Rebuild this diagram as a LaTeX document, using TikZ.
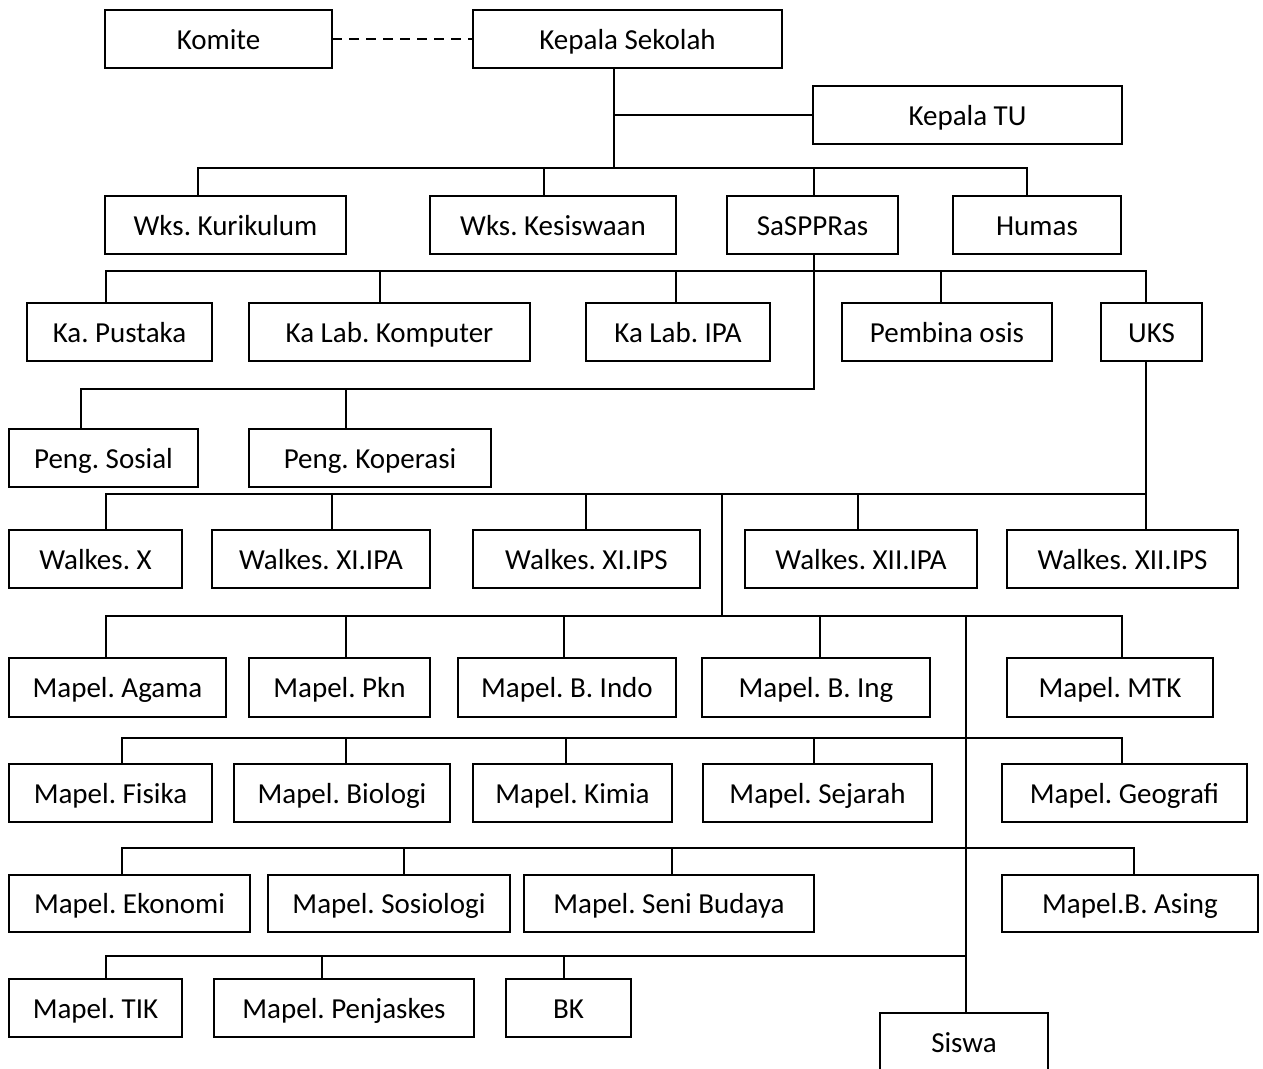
\documentclass[tikz,border=0pt]{standalone}
\usepackage{fontspec}
\setmainfont{Carlito}
\frenchspacing
\tikzset{
  box/.style={draw, line width=1.5pt, inner sep=0pt, outer sep=0pt,
    font=\fontsize{29}{34}\selectfont\frenchspacing, text height=27pt, text depth=6.4pt},
  conn/.style={line width=1.5pt, line cap=rect},
  dashconn/.style={line width=1.5pt, dash pattern=on 10pt off 7pt}
}
\newcommand{\mkbox}[6]{\node[box, minimum width={(#4)-(#2)}, minimum height={(#5)-(#3)}] (#1) at ({((#2)+(#4))/2},{((#3)+(#5))/2}) {#6};}
\newcommand{\dropto}[3]{\coordinate (#1) at (#2); \draw[conn] (#1) -- (#1 |- #3.north);}
\begin{document}
\begin{tikzpicture}[x=1pt,y=-1pt]
\useasboundingbox (0,0) rectangle (1263,1068);
\fill[white] (0,0) rectangle (1263,1068);
\clip (0,0) rectangle (1263,1068);
% boxes
\mkbox{komite}{105}{10}{332}{68}{Komite}
\mkbox{kepsek}{473}{10}{782}{68}{Kepala Sekolah}
\mkbox{ktu}{813}{86}{1122}{144}{Kepala TU}
\mkbox{wkk}{105}{196}{346}{254}{Wks. Kurikulum}
\mkbox{wks}{430}{196}{676}{254}{Wks. Kesiswaan}
\mkbox{sas}{727}{196}{898}{254}{SaSPPRas}
\mkbox{humas}{953}{196}{1121}{254}{Humas}
\mkbox{pust}{27}{303}{212}{361}{Ka. Pustaka}
\mkbox{komp}{249}{303}{530}{361}{Ka Lab. Komputer}
\mkbox{ipa}{586}{303}{770}{361}{Ka Lab. IPA}
\mkbox{osis}{842}{303}{1052}{361}{Pembina osis}
\mkbox{uks}{1101}{303}{1202}{361}{UKS}
\mkbox{sos}{9}{429}{198}{487}{Peng. Sosial}
\mkbox{kop}{249}{429}{491}{487}{Peng. Koperasi}
\mkbox{wx}{9}{530}{182}{588}{Walkes. X}
\mkbox{wxia}{212}{530}{430}{588}{Walkes. XI.IPA}
\mkbox{wxis}{473}{530}{700}{588}{Walkes. XI.IPS}
\mkbox{wxiia}{745}{530}{977}{588}{Walkes. XII.IPA}
\mkbox{wxiis}{1007}{530}{1238}{588}{Walkes. XII.IPS}
\mkbox{agama}{9}{658}{226}{717}{Mapel. Agama}
\mkbox{pkn}{249}{658}{430}{717}{Mapel. Pkn}
\mkbox{indo}{458}{658}{676}{717}{Mapel. B. Indo}
\mkbox{ing}{702}{658}{930}{717}{Mapel. B. Ing}
\mkbox{mtk}{1007}{658}{1213}{717}{Mapel. MTK}
\mkbox{fis}{9}{764}{212}{822}{Mapel. Fisika}
\mkbox{bio}{234}{764}{450}{822}{Mapel. Biologi}
\mkbox{kim}{473}{764}{672}{822}{Mapel. Kimia}
\mkbox{sej}{703}{764}{932}{822}{Mapel. Sejarah}
\mkbox{geo}{1002}{764}{1247}{822}{Mapel. Geografi}
\mkbox{eko}{9}{875}{250}{932}{Mapel. Ekonomi}
\mkbox{sosio}{268}{875}{510}{932}{Mapel. Sosiologi}
\mkbox{seni}{524}{875}{814}{932}{Mapel. Seni Budaya}
\mkbox{asing}{1002}{875}{1258}{932}{Mapel.B. Asing}
\mkbox{tik}{9}{979}{182}{1037}{Mapel. TIK}
\mkbox{penj}{214}{979}{474}{1037}{Mapel. Penjaskes}
\mkbox{bk}{506}{979}{631}{1037}{BK}
\mkbox{siswa}{880}{1013}{1048}{1072}{Siswa}
% connectors
\draw[dashconn] (komite.east) -- (kepsek.west);
\coordinate (j1) at (614,168);
\draw[conn] (kepsek.south -| j1) -- (j1);
\draw[conn] (ktu.west -| j1) -- (ktu.west);
% level 1 bus
\coordinate (b1l) at (198,168); \coordinate (b1r) at (1027,168);
\draw[conn] (b1l) -- (b1r);
\dropto{d11}{198,168}{wkk}
\dropto{d12}{544,168}{wks}
\dropto{d13}{814,168}{sas}
\dropto{d14}{1027,168}{humas}
% level 2 bus
\coordinate (j2) at (814,389);
\draw[conn] (sas.south -| j2) -- (j2);
\coordinate (b2l) at (106,271); \coordinate (b2r) at (1146,271);
\draw[conn] (b2l) -- (b2r);
\dropto{d21}{106,271}{pust}
\dropto{d22}{380,271}{komp}
\dropto{d23}{676,271}{ipa}
\dropto{d24}{941,271}{osis}
\dropto{d25}{1146,271}{uks}
% peng bus
\coordinate (b3l) at (81,389);
\draw[conn] (b3l) -- (j2);
\dropto{d31}{81,389}{sos}
\dropto{d32}{346,389}{kop}
% walkes bus
\coordinate (j3) at (1146,494);
\draw[conn] (uks.south -| j3) -- (wxiis.north -| j3);
\coordinate (b4l) at (106,494);
\draw[conn] (b4l) -- (j3);
\dropto{d41}{106,494}{wx}
\dropto{d42}{332,494}{wxia}
\dropto{d43}{586,494}{wxis}
\dropto{d44}{858,494}{wxiia}
\coordinate (j4a) at (722,494); \coordinate (j4b) at (722,616);
\draw[conn] (j4a) -- (j4b);
% mapel row 1
\coordinate (b5l) at (106,616); \coordinate (b5r) at (1122,616);
\draw[conn] (b5l) -- (b5r);
\dropto{d51}{106,616}{agama}
\dropto{d52}{346,616}{pkn}
\dropto{d53}{564,616}{indo}
\dropto{d54}{820,616}{ing}
\dropto{d55}{1122,616}{mtk}
\coordinate (j5) at (966,616);
\draw[conn] (j5) -- (siswa.north -| j5);
% mapel row 2
\coordinate (b6l) at (122,738); \coordinate (b6r) at (1122,738);
\draw[conn] (b6l) -- (b6r);
\dropto{d61}{122,738}{fis}
\dropto{d62}{346,738}{bio}
\dropto{d63}{566,738}{kim}
\dropto{d64}{814,738}{sej}
\dropto{d65}{1122,738}{geo}
% mapel row 3
\coordinate (b7l) at (122,848); \coordinate (b7r) at (1134,848);
\draw[conn] (b7l) -- (b7r);
\dropto{d71}{122,848}{eko}
\dropto{d72}{404,848}{sosio}
\dropto{d73}{672,848}{seni}
\dropto{d74}{1134,848}{asing}
% mapel row 4
\coordinate (b8l) at (106,956); \coordinate (b8r) at (966,956);
\draw[conn] (b8l) -- (b8r);
\dropto{d81}{106,956}{tik}
\dropto{d82}{322,956}{penj}
\dropto{d83}{564,956}{bk}
\end{tikzpicture}
\end{document}
